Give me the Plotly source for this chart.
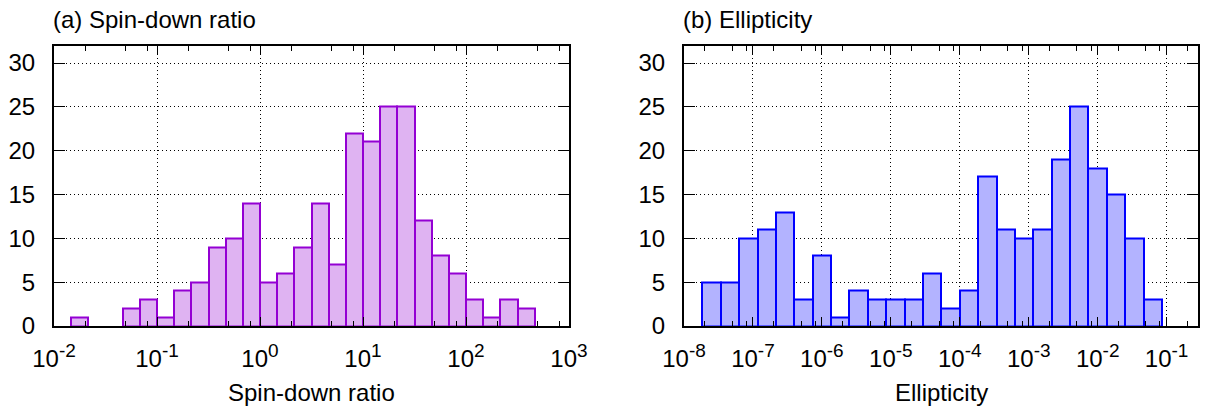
import math
import plotly.graph_objects as go

# ---------------- data ----------------
# (a) Spin-down ratio: log10 lower edge of first bin, bin width (decades), counts
spin_first_edge = -11 / 6
spin_bin_width = 1 / 6
spin_counts = [1, 0, 0, 2, 3, 1, 4, 5, 9, 10, 14, 5, 6, 9, 14, 7, 22, 21, 25, 25,
               12, 8, 6, 3, 1, 3, 2]

# (b) Ellipticity
ell_first_edge = -8 + 4 / 15
ell_bin_width = 4 / 15
ell_counts = [5, 5, 10, 11, 13, 3, 8, 1, 4, 3, 3, 3, 6, 2, 4, 17, 11, 10, 11, 19,
              25, 18, 15, 10, 3]

spin_decades = [-2, -1, 0, 1, 2, 3]
ell_decades = [-8, -7, -6, -5, -4, -3, -2, -1]
minor_mults = [2, 5, 8]
y_ticks = [0, 5, 10, 15, 20, 25, 30]

titles = ["(a) Spin-down ratio", "(b) Ellipticity"]
xlabels = ["Spin-down ratio", "Ellipticity"]

# ---------------- figure ----------------
W, H = 1208, 410
FONT = "Liberation Sans, Arial, sans-serif"
FS = 24


def bars(first, width, counts):
    xs, ys = [], []
    for i, c in enumerate(counts):
        if c > 0:
            xs.append(first + width * (i + 0.5))
            ys.append(c)
    return xs, ys


def minor_vals(decades):
    return [d + math.log10(m) for d in decades for m in minor_mults]


def tick_text(decades):
    return ['10<sup><span style="font-size:19px">%d</span></sup>' % d for d in decades]


fig = go.Figure()
sx, sy = bars(spin_first_edge, spin_bin_width, spin_counts)
fig.add_trace(go.Bar(
    x=sx, y=sy, width=spin_bin_width,
    marker=dict(color="#DFB3F2", line=dict(color="#9400D3", width=2)),
    xaxis="x", yaxis="y", showlegend=False))
ex, ey = bars(ell_first_edge, ell_bin_width, ell_counts)
fig.add_trace(go.Bar(
    x=ex, y=ey, width=ell_bin_width,
    marker=dict(color="#B3B3FF", line=dict(color="#0000FF", width=2)),
    xaxis="x2", yaxis="y2", showlegend=False))

left_dom = [54 / W, 569 / W]
right_dom = [684 / W, 1198 / W]
ydom = [(H - 326) / H, (H - 45.5) / H]

tickfont = dict(family=FONT, size=FS, color="black")
common_x = dict(
    tickmode="array", ticks="inside", ticklen=9, tickwidth=1, tickcolor="black",
    showline=True, linecolor="black", linewidth=2, mirror="allticks",
    showgrid=True, gridcolor="black", griddash="1px,3px", gridwidth=1,
    zeroline=False, tickfont=tickfont, automargin=False, ticklabelstandoff=10,
)
common_y = dict(
    range=[0, 32], tickmode="array", tickvals=y_ticks, ticks="inside", ticklen=11,
    tickwidth=1, tickcolor="black", showline=True, linecolor="black", linewidth=2,
    mirror="allticks", showgrid=True, gridcolor="black", griddash="1px,3px",
    gridwidth=1, zeroline=False, tickfont=tickfont, automargin=False,
    ticklabelstandoff=12,
)

fig.update_layout(
    width=W, height=H, margin=dict(l=0, r=0, t=0, b=0),
    paper_bgcolor="white", plot_bgcolor="white", bargap=0,
    font=dict(family=FONT, color="black"),
    xaxis=dict(domain=left_dom, range=[-2, 3], anchor="y",
               tickvals=spin_decades, ticktext=tick_text(spin_decades),
               minor=dict(tickmode="array", tickvals=minor_vals(spin_decades[:-1]),
                          ticks="inside", ticklen=5, tickcolor="black", showgrid=False),
               **common_x),
    yaxis=dict(domain=ydom, anchor="x", **common_y),
    xaxis2=dict(domain=right_dom, range=[-8, -0.545], anchor="y2",
                tickvals=ell_decades, ticktext=tick_text(ell_decades),
                minor=dict(tickmode="array", tickvals=minor_vals(ell_decades),
                           ticks="inside", ticklen=5, tickcolor="black", showgrid=False),
                **common_x),
    yaxis2=dict(domain=ydom, anchor="x2", **common_y),
)

for i, (t, xl) in enumerate(zip(titles, xlabels)):
    dom = left_dom if i == 0 else right_dom
    fig.add_annotation(text=t, xref="paper", yref="paper", x=dom[0] - 1 / W,
                       y=(H - 19) / H, xanchor="left", yanchor="middle",
                       showarrow=False, xshift=-2,
                       font=dict(family=FONT, size=FS, color="black"))
    fig.add_annotation(text=xl, xref="paper", yref="paper", x=(dom[0] + dom[1]) / 2,
                       y=(H - 392) / H, xanchor="center", yanchor="middle",
                       showarrow=False, font=dict(family=FONT, size=FS, color="black"))

fig.write_html("out.html")
